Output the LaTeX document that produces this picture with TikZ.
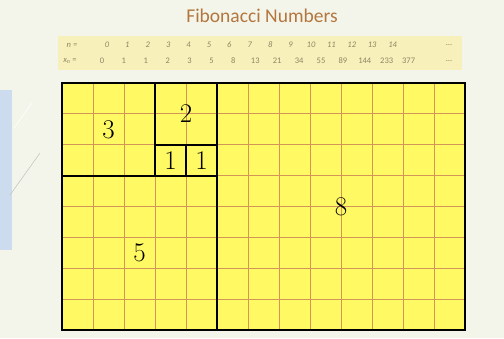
\documentclass[tikz,border=0pt]{standalone}
\usepackage{fontspec}
\newfontfamily\titlefont{Carlito}
\definecolor{pagebg}{RGB}{243,245,234}
\definecolor{panelblue}{RGB}{204,219,238}
\definecolor{sqyellow}{RGB}{255,250,100}
\definecolor{gridorange}{RGB}{212,150,88}
\definecolor{titlebrown}{RGB}{180,118,62}
\definecolor{tableband}{RGB}{248,240,186}
\definecolor{tabletext}{RGB}{140,134,100}
\usetikzlibrary{positioning}

\tikzset{
	sqline/.style={draw=black,line width=1.8pt},
	thinline/.style={draw=gridorange,line width=0.9pt},
	sqlabel/.style={font=\fontsize{27}{27}\selectfont,inner sep=0pt},
	tabcell/.style={font=\titlefont\fontsize{8.5}{9}\selectfont,text=tabletext,inner sep=0pt}
}

\begin{document}
\begin{tikzpicture}[x=1pt,y=-1pt]
				\fill[pagebg] (0,0) rectangle (504,338);
				\useasboundingbox (0,0) rectangle (504,338);
				\fill[panelblue] (0,90) rectangle (12,250);
				\draw[gray!45,line width=0.6pt] (10,195) -- (40,153);
				\draw[white,line width=0.6pt] (14,128) -- (32,103);
				
				% title and table
				\node[font=\titlefont\fontsize{19.5}{20}\selectfont,text=titlebrown] (title) at (262,16) {Fibonacci Numbers};
				\fill[tableband] (58,36) rectangle (462,70);
				\node[tabcell] (nlab) at (72,45) {\itshape n =};
				\node[tabcell] (xlab) at (70,61) {{\itshape x}\textsubscript{\itshape n} =};
				\node foreach \v [count=\k from 0] in {0,...,14}
				[tabcell] (n\k) at (107+20.4*\k,45) {\itshape\v};
				\node foreach \v [count=\k from 0] in {0,1,1,2,3,5,8,13,21,34,55,89,144,233,377}
				[tabcell] (x\k) at (102+21.9*\k,61) {\v};
				\node[tabcell] (ndots) at (449,45) {\ldots};
				\node[tabcell] (xdots) at (449,61) {\ldots};
				
				% squares
				\begin{scope}[shift={(62,83)},x=31pt,y=-30.875pt]
					\fill[sqyellow] (0,0) rectangle (13,8);
					\foreach \i in {1,...,12} \draw[thinline] (\i,0) -- (\i,8);
					\foreach \j in {1,...,7} \draw[thinline] (0,\j) -- (13,\j);
					
					\draw[sqline] (0,0) rectangle (3,3);
					\draw[sqline] (3,0) rectangle (5,2);
					\draw[sqline] (3,2) rectangle (4,3);
					\draw[sqline] (4,2) rectangle (5,3);
					\draw[sqline] (0,3) rectangle (5,8);
					\draw[sqline] (5,0) rectangle (13,8);
					
					\node[sqlabel] (lab3) at (1.5,1.5) {3};
					\node[sqlabel] (lab2) at (4,1) {2};
					\node[sqlabel] (lab1a) at (3.5,2.5) {1};
					\node[sqlabel] (lab1b) at (4.5,2.5) {1};
					\node[sqlabel] (lab5) at (2.5,5.5) {5};
					\node[sqlabel] (lab8) at (9,4) {8};
				\end{scope}
			\end{tikzpicture}
\end{document}
